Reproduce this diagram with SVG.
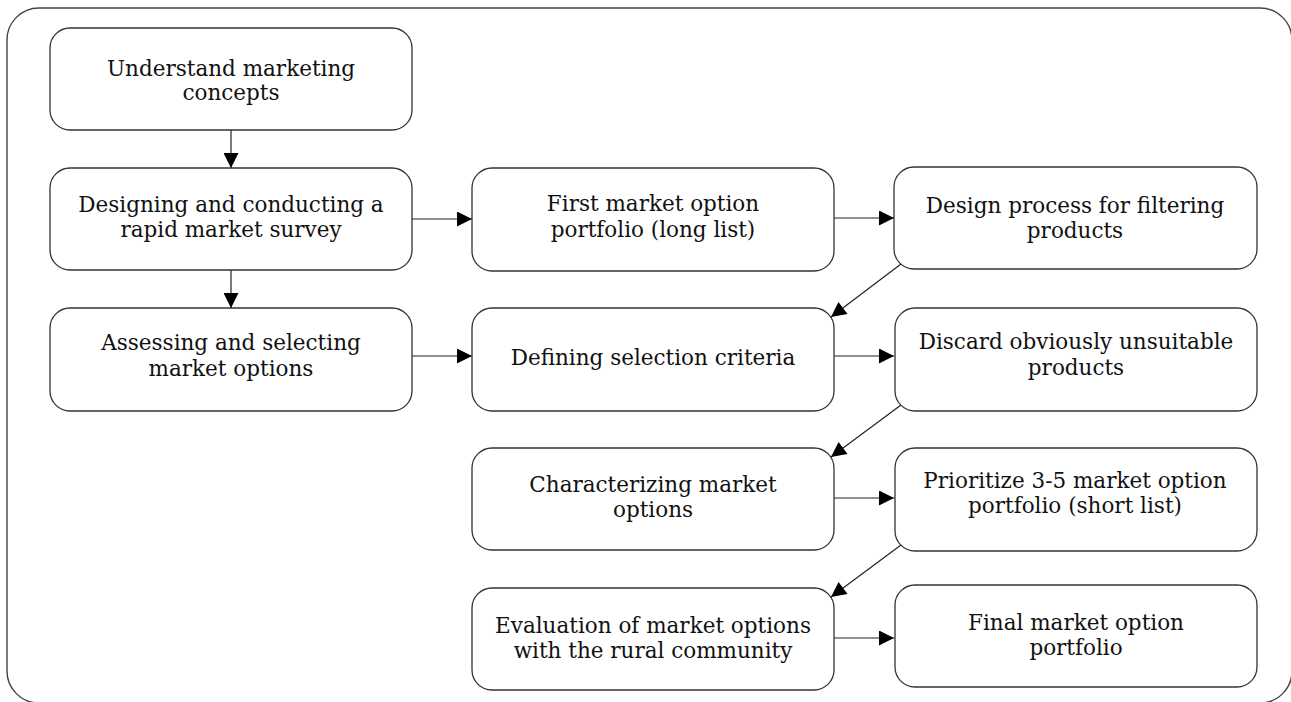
<svg xmlns="http://www.w3.org/2000/svg" width="1291" height="702" viewBox="0 0 1291 702">
<style>
.box{fill:#fff;stroke:#333;stroke-width:1.3}
.frame{fill:none;stroke:#444;stroke-width:1.4}
.lbl{font-family:"DejaVu Serif","Liberation Serif",serif;font-size:21.5px;fill:#111;text-anchor:middle}
.con{stroke:#222;stroke-width:1.2;fill:none;marker-end:url(#ah)}
</style>
<defs>
<marker id="ah" viewBox="0 0 10 10" refX="10" refY="5" markerWidth="17" markerHeight="15" markerUnits="userSpaceOnUse" orient="auto">
<path d="M0,0 L10,5 L0,10 Z" fill="#000"/>
</marker>
</defs>
<rect class="frame" x="7" y="8" width="1285" height="695" rx="32" ry="32"/>
<g id="connectors">
<line class="con" x1="231" y1="130" x2="231" y2="168"/>
<line class="con" x1="231" y1="270" x2="231" y2="308"/>
<line class="con" x1="412" y1="219" x2="472" y2="219"/>
<line class="con" x1="834" y1="218" x2="894" y2="218"/>
<line class="con" x1="412" y1="356" x2="472" y2="356"/>
<line class="con" x1="834" y1="356" x2="894" y2="356"/>
<line class="con" x1="834" y1="498" x2="894" y2="498"/>
<line class="con" x1="834" y1="638" x2="894" y2="638"/>
<line class="con" x1="901" y1="264" x2="831" y2="317"/>
<line class="con" x1="901" y1="405" x2="831" y2="457"/>
<line class="con" x1="901" y1="545" x2="831" y2="597"/>
</g>
<g id="n1"><rect class="box" x="50" y="28" width="362" height="102" rx="20"/>
<text class="lbl" x="231" y="76">Understand marketing</text><text class="lbl" x="231" y="100">concepts</text></g>
<g id="n2"><rect class="box" x="50" y="168" width="362" height="102" rx="20"/>
<text class="lbl" x="231" y="212">Designing and conducting a</text><text class="lbl" x="231" y="237">rapid market survey</text></g>
<g id="n3"><rect class="box" x="50" y="308" width="362" height="103" rx="20"/>
<text class="lbl" x="231" y="350">Assessing and selecting</text><text class="lbl" x="231" y="376">market options</text></g>
<g id="n4"><rect class="box" x="472" y="168" width="362" height="103" rx="20"/>
<text class="lbl" x="653" y="211">First market option</text><text class="lbl" x="653" y="237">portfolio (long list)</text></g>
<g id="n5"><rect class="box" x="472" y="308" width="362" height="103" rx="20"/>
<text class="lbl" x="653" y="365">Defining selection criteria</text></g>
<g id="n6"><rect class="box" x="472" y="448" width="362" height="102" rx="20"/>
<text class="lbl" x="653" y="492">Characterizing market</text><text class="lbl" x="653" y="517">options</text></g>
<g id="n7"><rect class="box" x="472" y="588" width="362" height="102" rx="20"/>
<text class="lbl" x="653" y="633">Evaluation of market options</text><text class="lbl" x="653" y="658">with the rural community</text></g>
<g id="n8"><rect class="box" x="894" y="167" width="363" height="102" rx="20"/>
<text class="lbl" x="1075" y="213">Design process for filtering</text><text class="lbl" x="1075" y="238">products</text></g>
<g id="n9"><rect class="box" x="895" y="308" width="362" height="103" rx="20"/>
<text class="lbl" x="1076" y="349">Discard obviously unsuitable</text><text class="lbl" x="1076" y="375">products</text></g>
<g id="n10"><rect class="box" x="895" y="448" width="362" height="103" rx="20"/>
<text class="lbl" x="1075" y="488">Prioritize 3-5 market option</text><text class="lbl" x="1075" y="513">portfolio (short list)</text></g>
<g id="n11"><rect class="box" x="895" y="585" width="362" height="102" rx="20"/>
<text class="lbl" x="1076" y="630">Final market option</text><text class="lbl" x="1076" y="655">portfolio</text></g>
</svg>
